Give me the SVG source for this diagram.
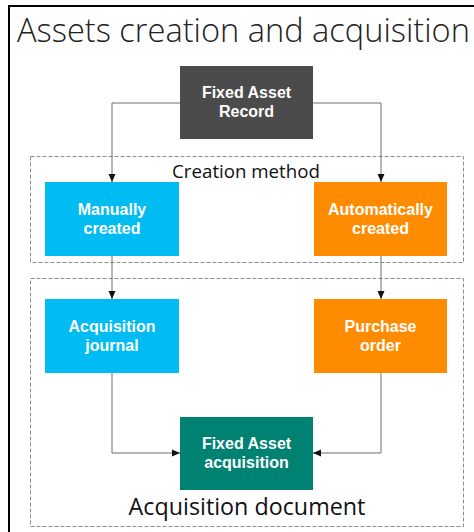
<svg xmlns="http://www.w3.org/2000/svg" width="474" height="532" viewBox="0 0 474 532">
<style>
.node text{font-family:"Liberation Sans",Arial,sans-serif;font-weight:bold;font-size:16px;fill:#fff;text-anchor:middle}
.grp{fill:none;stroke:#8c8c8c;stroke-width:1;stroke-dasharray:4,2}
.lbl{font-family:"Open Sans","Noto Sans",sans-serif;fill:#111;text-anchor:middle}
.conn path{fill:none;stroke:#6e6e6e;stroke-width:1}
</style>
<defs>
<marker id="ah" viewBox="0 0 8 8" refX="8" refY="4" markerWidth="8" markerHeight="8" markerUnits="userSpaceOnUse" orient="auto">
<path d="M0,0.5 L8,4 L0,7.5 Z" fill="#111"/>
</marker>
</defs>
<rect width="474" height="532" fill="#fff"/>
<path d="M9,532 V6 H474" fill="none" stroke="#000" stroke-width="2"/>
<text x="17" y="42" font-family="Open Sans, Noto Sans, sans-serif" font-weight="300" font-size="32.6" fill="#222">Assets creation and acquisition</text>
<g id="creation-method">
<rect class="grp" x="30.5" y="156.5" width="433" height="106"/>
<text class="lbl" x="246" y="178" font-size="18.7">Creation method</text>
</g>
<g id="acquisition-document">
<rect class="grp" x="30.5" y="278.5" width="433" height="248"/>
<text class="lbl" x="247" y="515" font-size="23.3">Acquisition document</text>
</g>
<g class="conn">
<path d="M180,103 H112 V182" marker-end="url(#ah)"/>
<path d="M313,103 H381 V182" marker-end="url(#ah)"/>
<path d="M112,256 V299" marker-end="url(#ah)"/>
<path d="M381,256 V299" marker-end="url(#ah)"/>
<path d="M112,373 V453 H180" marker-end="url(#ah)"/>
<path d="M381,373 V453 H313" marker-end="url(#ah)"/>
</g>
<g id="fixed-asset-record" class="node">
<rect x="180" y="66" width="133" height="73" fill="#4b4b4b"/>
<text x="246.5" y="98">Fixed Asset</text>
<text x="246.5" y="117">Record</text>
</g>
<g id="manually-created" class="node">
<rect x="45" y="182" width="134" height="74" fill="#00bcf2"/>
<text x="112" y="215">Manually</text>
<text x="112" y="234">created</text>
</g>
<g id="automatically-created" class="node">
<rect x="314" y="182" width="133" height="74" fill="#ff8c00"/>
<text x="380.5" y="215">Automatically</text>
<text x="380.5" y="234">created</text>
</g>
<g id="acquisition-journal" class="node">
<rect x="45" y="299" width="134" height="74" fill="#00bcf2"/>
<text x="112" y="332">Acquisition</text>
<text x="112" y="351">journal</text>
</g>
<g id="purchase-order" class="node">
<rect x="314" y="299" width="133" height="74" fill="#ff8c00"/>
<text x="380.5" y="332">Purchase</text>
<text x="380.5" y="351">order</text>
</g>
<g id="fixed-asset-acquisition" class="node">
<rect x="180" y="417" width="133" height="73" fill="#008272"/>
<text x="246.5" y="449">Fixed Asset</text>
<text x="246.5" y="468">acquisition</text>
</g>
</svg>
